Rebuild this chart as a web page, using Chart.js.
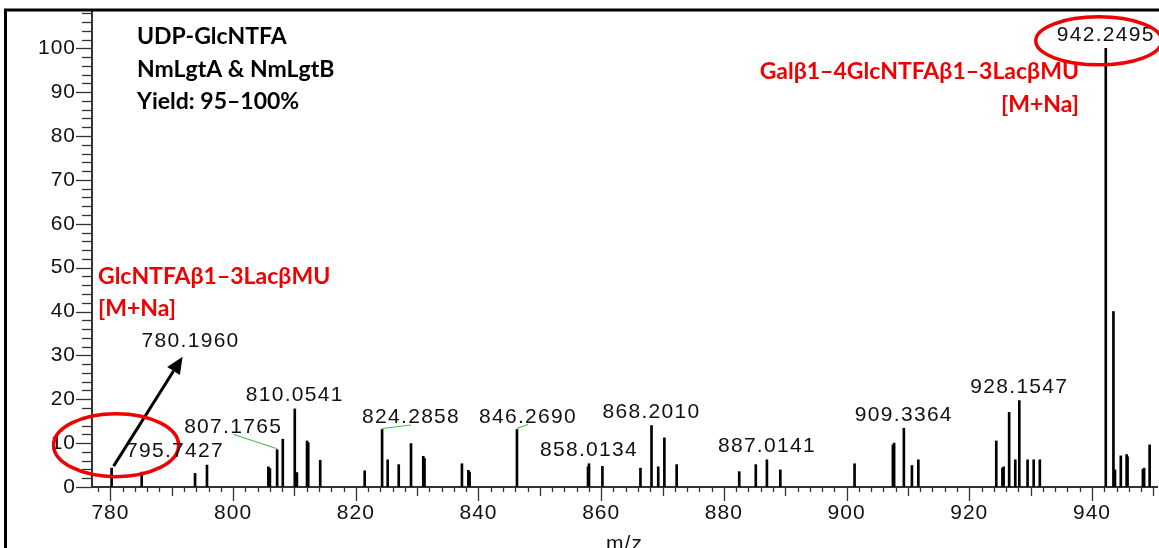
<!DOCTYPE html>
<html><head><meta charset="utf-8">
<script src="https://cdn.jsdelivr.net/npm/chart.js@4.4.1/dist/chart.umd.min.js"></script>
<style>html,body{margin:0;padding:0;background:#fff;overflow:hidden}canvas{display:block}</style>
</head><body>
<canvas id="c" width="1159" height="548"></canvas>
<script>
// ---------- DATA ----------
const peakMz = [780.196, 785.1, 793.8, 795.7427, 805.75, 806.0, 807.1765, 808.1, 810.0541, 810.4,
  812.05, 812.25, 814.2, 821.45, 824.2858, 825.2, 827.0, 829.0, 831.0, 831.2,
  837.3, 838.35, 838.55, 846.269, 857.85, 858.0134, 860.2, 866.4, 868.201, 869.3,
  870.3, 872.3, 882.5, 885.2, 887.0141, 889.2, 901.3, 907.55, 907.75, 909.3364,
  910.65, 911.7, 924.4, 925.4, 925.6, 926.5, 927.5, 928.1547, 929.5, 930.5,
  931.5, 942.2495, 943.5, 943.75, 944.7, 945.65, 945.8, 948.3, 948.5, 949.4];
const peakIntensity = [4.3, 3.4, 3.1, 5.0, 4.6, 4.2, 8.5, 10.9, 17.8, 3.3,
  10.5, 10.1, 6.1, 3.7, 13.1, 6.2, 5.1, 9.9, 7.0, 6.5,
  5.3, 3.8, 3.4, 13.1, 4.6, 5.3, 4.7, 4.3, 14.0, 4.6,
  11.2, 5.1, 3.5, 5.1, 6.2, 3.9, 5.3, 9.6, 10.0, 13.4,
  4.9, 6.2, 10.5, 4.3, 4.6, 17.0, 6.2, 19.7, 6.2, 6.2,
  6.2, 100, 40.0, 3.9, 7.1, 7.4, 6.9, 4.0, 4.3, 9.6];
const peakLabels = ['780.1960', '795.7427', '807.1765', '810.0541', '824.2858', '846.2690',
  '858.0134', '868.2010', '887.0141', '909.3364', '928.1547', '942.2495'];
const xTickValues = [780, 800, 820, 840, 860, 880, 900, 920, 940];
const yTickValues = [0, 10, 20, 30, 40, 50, 60, 70, 80, 90, 100];
const xAxisTitle = 'm/z';
const sampleLines = ['UDP-GlcNTFA', 'NmLgtA & NmLgtB', 'Yield: 95–100%'];
const substrateLines = ['GlcNTFAβ1–3LacβMU', '[M+Na]'];
const productLines = ['Galβ1–4GlcNTFAβ1–3LacβMU', '[M+Na]'];

// ---------- STYLE / PLACEMENT ----------
const FONT = '"Liberation Sans", Arial, sans-serif';
const BOLD = '"Lato", "Open Sans", sans-serif';
const labelStyle = { // pixel offsets of label centre from peak top
  default: { dx: 0, dy: -13.5 },
  '780.1960': { dx: 79, dy: -127, arrow: true },
  '795.7427': { dx: -32, dy: -14 },
  '807.1765': { dx: -44, dy: -23, leader: true },
  '824.2858': { dx: 29, dy: -12, leader: true },
  '846.2690': { dx: 11, dy: -12.5, leader: true }
};

function drawText(ctx, text, x, y, font, color, align, spacing) {
  ctx.save();
  ctx.font = font; ctx.fillStyle = color; ctx.textAlign = align || 'center';
  ctx.textBaseline = 'middle'; ctx.letterSpacing = (spacing || 0) + 'px';
  ctx.fillText(text, x, y);
  ctx.restore();
}

const deco = {
  id: 'deco',
  beforeUpdate(chart) { chart.ctx.letterSpacing = '1px'; },
  beforeDraw(chart) {
    const c = chart.ctx; c.save(); c.fillStyle = '#fff'; c.fillRect(0, 0, chart.width, chart.height); c.restore();
    c.letterSpacing = '1px';
  },
  afterDraw(chart) {
    const ctx = chart.ctx, xs = chart.scales.x, ys = chart.scales.y, ca = chart.chartArea;
    ctx.save();
    // axis minor/major ticks
    ctx.strokeStyle = '#333'; ctx.lineWidth = 1.3;
    for (let v = 0; v <= ys.max; v += 2) {
      const y = Math.round(ys.getPixelForValue(v)) + 0.5;
      const len = v % 10 === 0 ? 16 : 10;
      ctx.beginPath(); ctx.moveTo(ca.left - len, y); ctx.lineTo(ca.left, y); ctx.stroke();
    }
    for (let v = Math.ceil(xs.min / 2) * 2; v <= xs.max; v += 2) {
      const x = Math.round(xs.getPixelForValue(v)) + 0.5;
      const len = v % 20 === 0 ? 14 : (v % 10 === 0 ? 9 : 5);
      ctx.beginPath(); ctx.moveTo(x, ca.bottom); ctx.lineTo(x, ca.bottom + len); ctx.stroke();
    }
    ctx.restore();
    // y tick labels
    yTickValues.forEach(v => drawText(ctx, String(v), ca.left - 16, ys.getPixelForValue(v), '21px ' + FONT, '#111', 'right', 1));
    // x-axis title
    ctx.save();
    ctx.font = '21px ' + FONT; ctx.fillStyle = '#111'; ctx.textAlign = 'center';
    ctx.textBaseline = 'alphabetic'; ctx.letterSpacing = '1px';
    ctx.fillText(xAxisTitle, (ca.left + ca.right) / 2, 550);
    ctx.restore();

    // peak labels
    peakLabels.forEach(t => {
      const mz = parseFloat(t);
      let bi = 0;
      peakMz.forEach((m, i) => { if (Math.abs(m - mz) < Math.abs(peakMz[bi] - mz)) bi = i; });
      const px = xs.getPixelForValue(peakMz[bi]), py = ys.getPixelForValue(peakIntensity[bi]);
      const st = labelStyle[t] || labelStyle.default;
      const cx = px + st.dx, cy = py + st.dy;
      drawText(ctx, t, cx, cy, '21px ' + FONT, '#111', 'center', 1.3);
      if (st.leader) {
        ctx.save(); ctx.strokeStyle = '#4cbb4c'; ctx.lineWidth = 1.2;
        ctx.beginPath(); ctx.moveTo(cx, cy + 7.5); ctx.lineTo(px, py - 1); ctx.stroke(); ctx.restore();
      }
      if (st.arrow) {
        const x0 = px + 2, y0 = py - 2, x1 = cx - 8, y1 = cy + 15.5;
        const ang = Math.atan2(y1 - y0, x1 - x0), hl = 17, hw = 7.5;
        const bx = x1 - hl * Math.cos(ang), by = y1 - hl * Math.sin(ang);
        ctx.save(); ctx.strokeStyle = '#000'; ctx.fillStyle = '#000'; ctx.lineWidth = 3;
        ctx.beginPath(); ctx.moveTo(x0, y0); ctx.lineTo(bx, by); ctx.stroke();
        ctx.beginPath(); ctx.moveTo(x1, y1);
        ctx.lineTo(bx + hw * Math.sin(ang), by - hw * Math.cos(ang));
        ctx.lineTo(bx - hw * Math.sin(ang), by + hw * Math.cos(ang));
        ctx.closePath(); ctx.fill(); ctx.restore();
        // ellipse round the substrate peak
        ctx.save(); ctx.strokeStyle = '#f00000'; ctx.lineWidth = 3.5;
        ctx.beginPath(); ctx.ellipse(px + 4.5, py - 23, 62.5, 31.5, 0, 0, Math.PI * 2); ctx.stroke(); ctx.restore();
      }
      if (t === '942.2495') {
        ctx.save(); ctx.strokeStyle = '#f00000'; ctx.lineWidth = 3.5;
        ctx.beginPath(); ctx.ellipse(cx - 7, cy + 6, 63, 24, 0, 0, Math.PI * 2); ctx.stroke(); ctx.restore();
      }
    });

    // annotation texts
    const bf = 'bold 23px ' + BOLD;
    sampleLines.forEach((s, i) => drawText(ctx, s, 137, 37 + i * 32.5, bf, '#000', 'left', 0));
    substrateLines.forEach((s, i) => drawText(ctx, s, 98, 276.7 + i * 31.5, bf, '#f00000', 'left', 0));
    productLines.forEach((s, i) => drawText(ctx, s, 1079, 71.7 + i * 33.3, bf, '#f00000', 'right', 0));

    // frame
    ctx.save(); ctx.strokeStyle = '#000'; ctx.lineWidth = 3;
    ctx.beginPath(); ctx.moveTo(5.5, chart.height); ctx.lineTo(5.5, 10); ctx.lineTo(chart.width, 10); ctx.stroke();
    ctx.restore();
  }
};

new Chart(document.getElementById('c'), {
  type: 'bar',
  data: {
    datasets: [{
      data: peakMz.map((m, i) => ({ x: m, y: peakIntensity[i] })),
      backgroundColor: '#000', borderWidth: 0, barThickness: 2, grouped: false
    }]
  },
  options: {
    responsive: false, devicePixelRatio: 1, animation: false,
    layout: { padding: { top: 11, right: 2, left: 0, bottom: 0 } },
    plugins: { legend: { display: false }, tooltip: { enabled: false } },
    scales: {
      x: {
        type: 'linear', min: 777.0, max: 950.6, offset: false,
        grid: { display: false, drawTicks: false },
        border: { display: true, color: '#333', width: 2 },
        afterBuildTicks: s => { s.ticks = xTickValues.map(v => ({ value: v })); },
        afterFit: s => { s.height = 61; },
        ticks: { padding: 14, maxRotation: 0, autoSkip: false, color: '#111', font: { family: FONT, size: 21 } }
      },
      y: {
        min: 0, max: 108.5,
        grid: { display: false, drawTicks: false },
        border: { display: true, color: '#333', width: 2 },
        afterFit: s => { s.width = 92; s.paddingTop = 0; s.paddingBottom = 0; },
        ticks: { display: false }
      }
    }
  },
  plugins: [deco]
});
</script>
</body></html>
